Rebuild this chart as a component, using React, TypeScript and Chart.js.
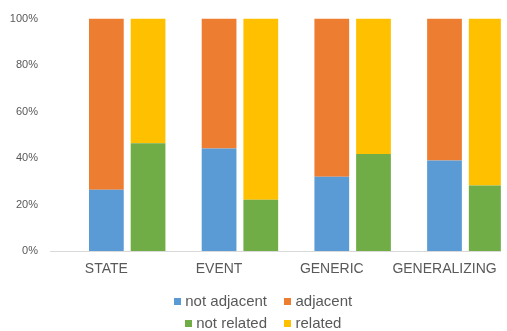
import React, { useEffect, useRef } from "react";
import { Chart, registerables } from "chart.js";

Chart.register(...registerables);

// Category labels and per-category shares (percent)
const categories = ["STATE", "EVENT", "GENERIC", "GENERALIZING"];
const notAdjacent = [26.4, 44.1, 32.0, 38.9];
const adjacent = [73.6, 55.9, 68.0, 61.1];
const notRelated = [46.4, 22.0, 41.7, 28.2];
const related = [53.6, 78.0, 58.3, 71.8];
// empty first slot in every group (keeps the two visible stacks right of centre)
const emptySlot = [0, 0, 0, 0];

const yMin = 0;
const yMax = 100;
const yStep = 20;

const legendRows = [
  ["not adjacent", "adjacent"],
  ["not related", "related"],
];

const FONT = "'Liberation Sans', Arial, sans-serif";
const TEXT = "#595959";

// Two-row legend drawn under the axis labels
const rowLegend = {
  id: "rowLegend",
  afterDraw(chart: any) {
    const ctx = chart.ctx as CanvasRenderingContext2D;
    const byLabel: Record<string, string> = {};
    chart.data.datasets.forEach((d: any) => (byLabel[d.label] = d.backgroundColor));
    const box = 7;
    const boxGap = 4.5;
    const itemGap = 17;
    const centerX = 263;
    const rowY = [301.5, 323.5];
    ctx.save();
    ctx.font = `15px ${FONT}`;
    ctx.textBaseline = "middle";
    ctx.textAlign = "left";
    legendRows.forEach((row, r) => {
      const widths = row.map((t) => box + boxGap + ctx.measureText(t).width);
      const total = widths.reduce((a, b) => a + b, 0) + itemGap * (row.length - 1);
      let x = centerX - total / 2;
      row.forEach((t, i) => {
        ctx.fillStyle = byLabel[t];
        ctx.fillRect(Math.round(x), Math.round(rowY[r] - box / 2), box, box);
        ctx.fillStyle = TEXT;
        ctx.fillText(t, x + box + boxGap, rowY[r]);
        x += widths[i] + itemGap;
      });
    });
    ctx.restore();
  },
};

export default function App() {
  const canvasRef = useRef<HTMLCanvasElement | null>(null);

  useEffect(() => {
    if (!canvasRef.current) return;
    Chart.defaults.font.family = FONT;
    const bar = { categoryPercentage: 1.11, barPercentage: 0.833, borderWidth: 0 };
    const chart = new Chart(canvasRef.current, {
      type: "bar",
      data: {
        labels: categories,
        datasets: [
          { label: "", data: emptySlot, stack: "s0", backgroundColor: "rgba(0,0,0,0)", ...bar },
          { label: "not adjacent", data: notAdjacent, stack: "s1", backgroundColor: "#5B9BD5", ...bar },
          { label: "adjacent", data: adjacent, stack: "s1", backgroundColor: "#ED7D31", ...bar },
          { label: "not related", data: notRelated, stack: "s2", backgroundColor: "#70AD47", ...bar },
          { label: "related", data: related, stack: "s2", backgroundColor: "#FFC000", ...bar },
        ],
      },
      options: {
        animation: false,
        responsive: true,
        maintainAspectRatio: false,
        layout: { padding: { top: 16, right: 3, left: 0, bottom: 0 } },
        plugins: {
          legend: { display: false },
          tooltip: { enabled: false },
        },
        scales: {
          x: {
            stacked: true,
            grid: { display: false, drawTicks: false },
            border: { display: true, color: "#D9D9D9", width: 1 },
            ticks: { color: TEXT, font: { size: 14 }, padding: 10, maxRotation: 0 },
            afterFit(scale: any) {
              scale.height = 80;
            },
          },
          y: {
            stacked: true,
            min: yMin,
            max: yMax,
            grid: { display: false, drawTicks: false },
            border: { display: false },
            ticks: {
              stepSize: yStep,
              color: TEXT,
              font: { size: 11 },
              padding: 12,
              callback: (v: any) => `${v}%`,
            },
            afterFit(scale: any) {
              scale.width = 50;
            },
          },
        },
      },
      plugins: [rowLegend],
    });
    return () => chart.destroy();
  }, []);

  return (
    <div style={{ position: "fixed", left: 0, top: 0, width: 507, height: 331, background: "#fff" }}>
      <canvas ref={canvasRef} />
    </div>
  );
}
